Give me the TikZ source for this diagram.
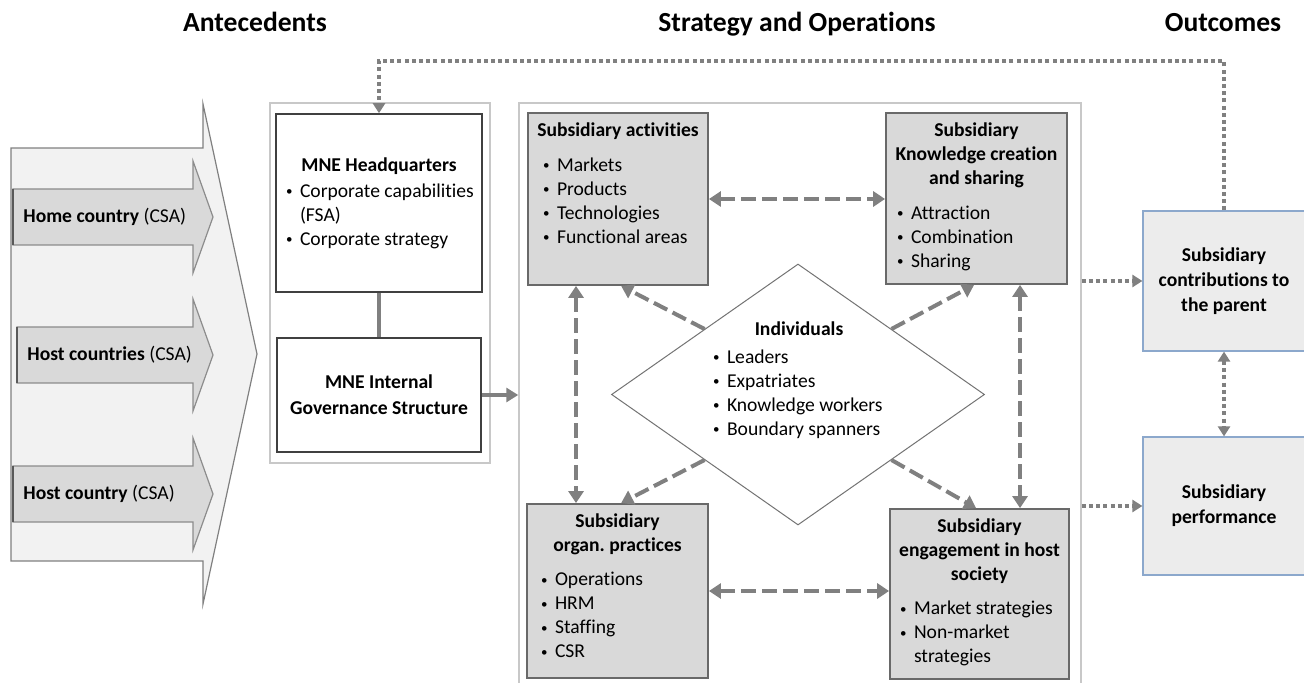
\documentclass[tikz,border=0pt]{standalone}
\usepackage{fontspec}
\setmainfont{Carlito}[Ligatures=NoCommon]
\usetikzlibrary{arrows.meta,shapes.geometric}

\definecolor{arrgray}{RGB}{128,128,128}
\definecolor{subfill}{RGB}{217,217,217}
\definecolor{subline}{RGB}{105,105,105}
\definecolor{outfill}{RGB}{236,236,236}
\definecolor{outline}{RGB}{140,168,204}
\definecolor{framegray}{RGB}{200,200,200}
\definecolor{csafill}{RGB}{242,242,242}

\newcommand{\blt}{\makebox[7pt][l]{\raisebox{0.9pt}{\fontsize{6.5}{6}\selectfont\textbullet}}}

\tikzset{
  heading/.style={anchor=base, font=\fontsize{13.8}{16}\selectfont\bfseries},
  txt/.style={font=\fontsize{9.8}{12}\selectfont},
  frame/.style={draw=framegray, line width=0.75pt},
  hqbox/.style={txt, draw=black!75, fill=white, line width=0.75pt, inner sep=0pt},
  subbox/.style={txt, draw=subline, fill=subfill, line width=0.9pt, inner sep=0pt},
  outbox/.style={txt, draw=outline, fill=outfill, line width=0.6pt, align=center,
    minimum width=81pt, font=\fontsize{9.8}{12.5}\selectfont\bfseries},
  dasharr/.style={draw=arrgray, line width=2pt, dash pattern=on 7.5pt off 3pt,
    {Triangle[length=6pt,width=7.5pt]}-{Triangle[length=6pt,width=7.5pt]}},
  dashone/.style={draw=arrgray, line width=2pt, dash pattern=on 7.5pt off 3pt,
    -{Triangle[length=6pt,width=7.5pt]}},
  dotarr/.style={draw=arrgray, line width=1.6pt, dash pattern=on 2pt off 1.6pt,
    -{Triangle[length=5pt,width=6pt]}},
  dotboth/.style={dotarr, {Triangle[length=5pt,width=6pt]}-{Triangle[length=5pt,width=6pt]}},
  solidarr/.style={draw=arrgray, line width=2pt, -{Triangle[length=6pt,width=7pt]}}
}

\begin{document}
\begin{tikzpicture}[x=0.5pt, y=-0.5pt]
  \useasboundingbox (0,0) rectangle (1304,683);

  \node[heading] (hant) at (255,32) {Antecedents};
  \node[heading] (hstr) at (797,32) {Strategy and Operations};
  \node[heading] (hout) at (1223,32) {Outcomes};

  % country level arrows
  \draw[draw=black!50, fill=csafill, line width=0.6pt]
    (11,148) -- (203,148) -- (203,104) -- (257,354) -- (203,604) -- (203,561) -- (11,561) -- cycle;
  \foreach \yc/\xl/\n/\lbl in {217/13/1/Home country, 355/17/2/Host countries, 494/13/3/Host country}{
    \draw[draw=black!45, fill=subfill, line width=0.6pt]
      (\xl,\yc-28) -- (193,\yc-28) -- (193,\yc-56) -- (213,\yc) -- (193,\yc+56)
      -- (193,\yc+28) -- (\xl,\yc+28) -- cycle;
    \draw[black!65, line width=1.2pt] (\xl,\yc-28) -- (\xl,\yc+28);
    \node[txt, anchor=west, inner sep=0pt] (csa\n) at (\xl+10,\yc) {\textbf{\lbl} (CSA)};
  }

  % headquarters side
  \node[frame, minimum width=110pt, minimum height=180pt] (mne) at (380,283) {};
  \node[hqbox] (hq) at (379,203) {\parbox[c][89pt][c]{103pt}{%
    \centering\textbf{MNE Headquarters}\par\vspace{1pt}
    \raggedright\leftskip=5pt
    \blt Corporate capabilities\par
    \hspace*{7pt}(FSA)\par
    \blt Corporate strategy\par}};
  \node[hqbox] (gov) at (379,395) {\parbox[c][57pt][c]{102pt}{%
    \centering\bfseries MNE Internal\\[1pt] Governance Structure}};
  \draw[arrgray, line width=2pt] (hq) -- (gov);

  % subsidiary strategy and operations
  \node[frame, minimum width=281pt, minimum height=298.5pt] (strat) at (800,401.5) {};

  \node[subbox] (act) at (618,199) {\parbox[c][86pt][t]{90pt}{%
    \vspace*{3.3pt}\centering\strut\textbf{Subsidiary activities}\par\vspace{5.5pt}
    \raggedright\leftskip=7.5pt
    \blt Markets\par \blt Products\par \blt Technologies\par \blt Functional areas\par}};
  \node[subbox] (know) at (976.5,198.5) {\parbox[c][85.5pt][t]{90.5pt}{%
    \vspace*{3.3pt}\centering\bfseries\strut Subsidiary\\ Knowledge creation\\ and sharing\par
    \vspace{5.5pt}\mdseries\raggedright\leftskip=5.5pt
    \blt Attraction\par \blt Combination\par \blt Sharing\par}};
  \node[subbox] (org) at (617.5,591) {\parbox[c][87pt][t]{90.5pt}{%
    \vspace*{3.5pt}\centering\bfseries\strut Subsidiary\\ organ.\ practices\par
    \vspace{5pt}\mdseries\raggedright\leftskip=7pt
    \blt Operations\par \blt HRM\par \blt Staffing\par \blt CSR\par}};
  \node[subbox] (eng) at (979.5,594) {\parbox[c][85pt][t]{89.5pt}{%
    \vspace*{3.5pt}\centering\bfseries\strut Subsidiary\\ engagement in host\\ society\par
    \vspace{5pt}\mdseries\raggedright\leftskip=5pt
    \blt Market strategies\par \blt Non-market\par \hspace*{7pt}strategies\par}};

  \node[diamond, draw=black!55, fill=white, line width=0.5pt, minimum width=186.5pt,
    minimum height=130.5pt, inner sep=0pt] (ind) at (798,394.5) {};
  \node[txt, anchor=north, inner sep=0pt] (indtxt) at (799,318) {\parbox[t]{86pt}{%
    \centering\strut\textbf{Individuals}\par\vspace{2pt}
    \raggedright
    \blt Leaders\par \blt Expatriates\par \blt Knowledge workers\par \blt Boundary spanners\par}};

  % outcomes
  \node[outbox, minimum height=70pt] (contrib) at (1224,281)
    {Subsidiary\\ contributions to\\ the parent};
  \node[outbox, minimum height=69pt] (perf) at (1224,506)
    {Subsidiary\\ performance};

  % links
  \draw[solidarr] (gov.east) -- (gov.east -| strat.west);
  \draw[dasharr] (act.east) -- (act.east -| know.west);
  \draw[dasharr] (org.east) -- (org.east -| eng.west);
  \draw[dasharr] ([xshift=-21pt]act.south) -- ([xshift=-21pt]act.south |- org.north);
  \draw[dasharr] ([xshift=21.75pt]know.south) -- ([xshift=21.75pt]know.south |- eng.north);
  \draw[dashone] (ind.north west) -- ([xshift=47pt]act.south west);
  \draw[dashone] (ind.north east) -- ([xshift=44.5pt]know.south west);
  \draw[dashone] (ind.south west) -- ([xshift=47.5pt]org.north west);
  \draw[dashone] (ind.south east) -- ([xshift=43.5pt]eng.north west);

  \draw[dotarr] (contrib.west -| strat.east) -- (contrib.west);
  \draw[dotarr] (perf.west -| strat.east) -- (perf.west);
  \draw[dotboth] (contrib.south) -- (perf.north);
  \coordinate (fbtop) at (0,61);
  \draw[dotarr] (contrib.north) -- (contrib.north |- fbtop) -- (hq.north |- fbtop) -- (hq.north);
\end{tikzpicture}
\end{document}
